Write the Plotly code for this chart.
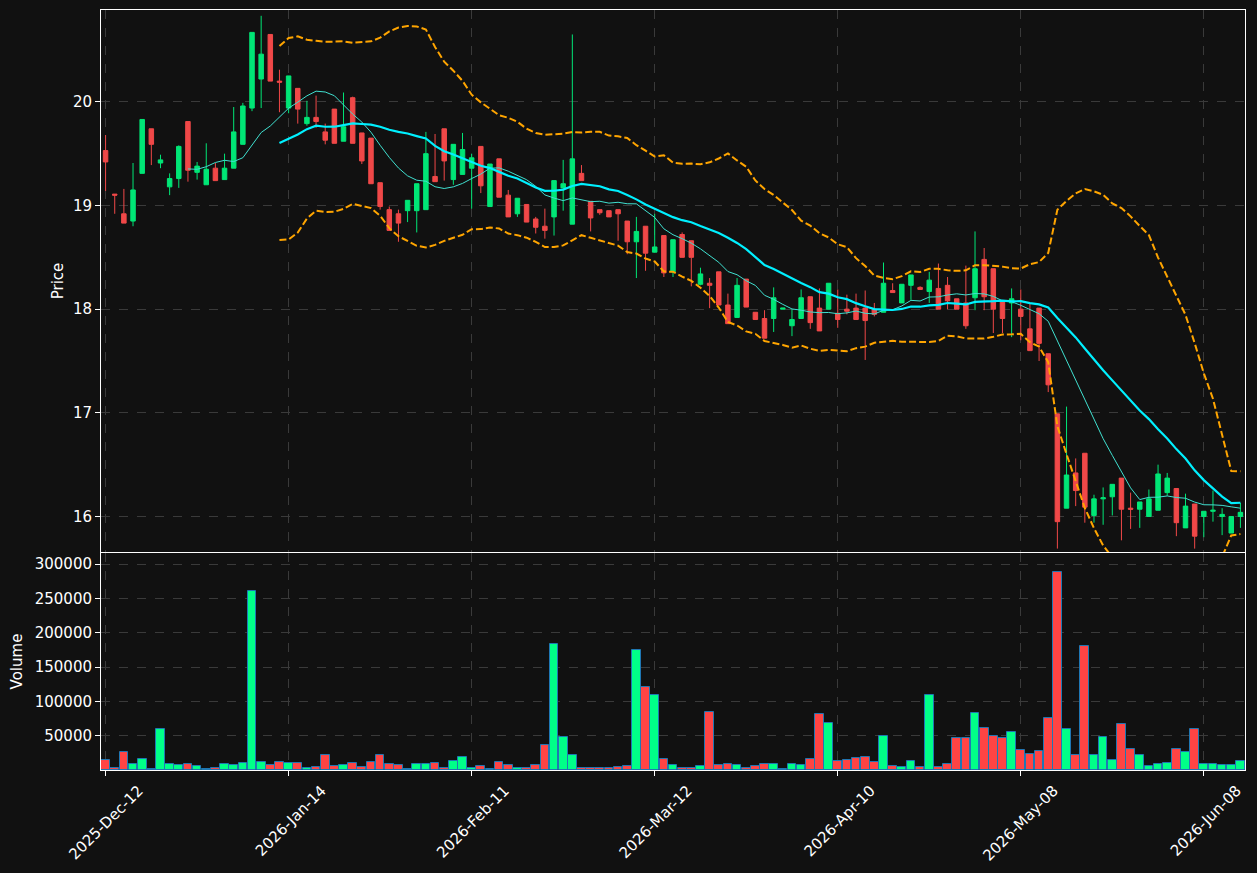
import pandas as pd
import plotly.graph_objects as go

tick_labels = ['2025-Dec-12', '2026-Jan-14', '2026-Feb-11', '2026-Mar-12',
               '2026-Apr-10', '2026-May-08', '2026-Jun-08']
tick_positions = [0, 20, 40, 60, 80, 100, 120]

opens = [19.53, 19.11, 18.92, 18.85, 19.31, 19.74, 19.41, 19.18, 19.26, 19.81,
         19.32, 19.20, 19.36, 19.25, 19.36, 19.59, 19.94, 20.22, 20.65, 20.20,
         19.94, 20.13, 19.79, 19.85, 19.71, 19.93, 19.62, 20.04, 19.70, 19.65,
         19.22, 18.96, 18.92, 18.95, 18.95, 18.96, 19.28, 19.74, 19.25, 19.30,
         19.36, 19.57, 18.99, 19.45, 19.10, 18.92, 19.01, 18.87, 18.80, 18.89,
         19.17, 18.82, 19.31, 19.04, 18.96, 18.95, 18.96, 18.85, 18.65, 18.80,
         18.55, 18.71, 18.36, 18.72, 18.66, 18.24, 18.25, 18.36, 18.04, 17.92,
         18.29, 17.97, 17.91, 17.91, 18.00, 17.84, 17.91, 18.12, 18.01, 18.00,
         17.96, 18.00, 18.01, 18.01, 18.00, 17.97, 18.18, 18.06, 18.23, 18.21,
         18.17, 18.20, 18.23, 18.10, 18.06, 18.11, 18.48, 18.39, 18.07, 18.06,
         18.00, 17.81, 18.01, 17.57, 16.99, 16.08, 16.42, 16.61, 16.01, 16.17,
         16.19, 16.37, 16.08, 16.07, 16.00, 16.06, 16.23, 16.27, 15.89, 16.12,
         16.00, 16.05, 16.00, 15.84, 16.00]
highs = [19.68, 19.11, 19.16, 19.41, 19.83, 19.74, 19.49, 19.31, 19.58, 19.81,
         19.42, 19.60, 19.41, 19.50, 19.95, 19.99, 20.67, 20.83, 20.65, 20.31,
         20.25, 20.13, 20.01, 20.06, 19.79, 19.93, 20.09, 20.05, 19.70, 19.65,
         19.22, 18.99, 18.96, 19.05, 19.21, 19.71, 19.69, 19.74, 19.59, 19.70,
         19.50, 19.57, 19.40, 19.45, 19.15, 19.07, 19.01, 18.89, 18.97, 19.24,
         19.44, 20.65, 19.39, 19.04, 18.96, 18.95, 18.96, 18.85, 18.89, 18.80,
         18.92, 18.71, 18.67, 18.74, 18.66, 18.40, 18.30, 18.36, 18.15, 18.30,
         18.29, 17.97, 17.99, 18.21, 18.01, 18.00, 18.19, 18.12, 18.20, 18.25,
         18.19, 18.14, 18.15, 18.18, 18.06, 18.45, 18.25, 18.24, 18.33, 18.22,
         18.36, 18.44, 18.31, 18.10, 18.42, 18.75, 18.59, 18.39, 18.07, 18.20,
         18.19, 18.05, 18.01, 17.57, 16.99, 17.06, 16.56, 16.61, 16.21, 16.28,
         16.31, 16.37, 16.23, 16.14, 16.26, 16.50, 16.42, 16.27, 16.22, 16.12,
         16.05, 16.25, 16.08, 16.00, 16.13]
lows = [19.14, 18.92, 18.83, 18.80, 19.31, 19.39, 19.36, 19.10, 19.17, 19.23,
        19.25, 19.20, 19.24, 19.25, 19.36, 19.59, 19.91, 19.94, 20.20, 19.90,
        19.89, 19.79, 19.77, 19.75, 19.59, 19.60, 19.62, 19.60, 19.40, 19.21,
        18.96, 18.76, 18.65, 18.84, 18.74, 18.96, 19.23, 19.24, 19.20, 19.30,
        18.97, 19.12, 18.99, 19.08, 18.89, 18.89, 18.84, 18.73, 18.68, 18.71,
        18.95, 18.82, 19.24, 18.75, 18.91, 18.89, 18.66, 18.53, 18.30, 18.37,
        18.55, 18.31, 18.31, 18.50, 18.22, 18.23, 18.01, 18.04, 17.86, 17.92,
        18.02, 17.90, 17.72, 17.78, 18.00, 17.74, 17.91, 17.81, 17.79, 18.00,
        17.82, 17.95, 17.90, 17.51, 17.93, 17.97, 18.16, 18.06, 18.09, 18.19,
        18.06, 18.00, 18.00, 18.00, 17.81, 17.99, 17.99, 17.77, 17.77, 17.73,
        17.70, 17.60, 17.50, 17.20, 15.69, 16.08, 16.10, 15.94, 15.94, 15.92,
        16.01, 15.77, 15.88, 15.89, 16.00, 16.06, 16.20, 15.81, 15.89, 15.69,
        15.80, 15.95, 15.82, 15.84, 15.89]
closes = [19.42, 19.10, 18.83, 19.15, 19.83, 19.59, 19.44, 19.26, 19.57, 19.34,
          19.38, 19.35, 19.24, 19.36, 19.71, 19.96, 20.67, 20.46, 20.20, 20.19,
          20.25, 19.93, 19.85, 19.81, 19.63, 19.60, 19.76, 19.60, 19.43, 19.21,
          18.99, 18.76, 18.83, 19.05, 19.21, 19.50, 19.23, 19.43, 19.59, 19.54,
          19.46, 19.19, 19.40, 19.08, 18.89, 19.07, 18.84, 18.79, 18.76, 19.24,
          19.21, 19.45, 19.24, 18.88, 18.93, 18.89, 18.92, 18.65, 18.75, 18.54,
          18.60, 18.35, 18.67, 18.50, 18.50, 18.34, 18.23, 18.04, 17.86, 18.23,
          18.02, 17.90, 17.72, 18.11, 18.01, 17.90, 18.11, 17.87, 17.79, 18.25,
          17.90, 17.98, 17.90, 17.89, 17.95, 18.25, 18.16, 18.24, 18.33, 18.19,
          18.28, 18.00, 18.08, 18.00, 17.84, 18.39, 18.12, 18.00, 17.91, 18.10,
          17.93, 17.60, 17.67, 17.27, 15.95, 16.40, 16.25, 16.09, 16.17, 16.18,
          16.31, 16.07, 16.07, 16.14, 16.17, 16.41, 16.37, 15.94, 16.10, 15.81,
          16.05, 16.06, 16.02, 16.00, 16.04]
volumes = [15200, 3400, 25500, 9300, 16700, 2000, 59300, 9300, 7800, 9300,
           6400, 2000, 3400, 9300, 7800, 10800, 260000, 12300, 7800, 12300,
           10800, 10800, 3400, 4900, 21100, 6400, 7800, 10800, 4900, 12300,
           22500, 9300, 7800, 2000, 9300, 9300, 10800, 3400, 13700, 19600,
           3400, 6400, 2000, 12300, 7800, 3400, 3400, 7800, 35800, 183000,
           47500, 21100, 3400, 3400, 3400, 3400, 4900, 6400, 175000, 121000,
           109500, 16700, 7800, 3400, 3400, 6400, 84500, 7800, 9300, 7800,
           3400, 6400, 9300, 9300, 1500, 9300, 7800, 16700, 82000, 69000,
           13700, 15200, 18100, 19600, 12300, 49000, 6400, 4900, 13700, 4900,
           108500, 4900, 9300, 46100, 46100, 83500, 60500, 49000, 46100, 56000,
           28400, 24000, 27000, 75000, 288000, 59000, 22500, 180000, 22500, 47500,
           15200, 66500, 29900, 21100, 6400, 9300, 10800, 29900, 25500, 59000,
           9300, 9300, 7800, 7800, 13700]

x = list(range(len(closes)))
close_s = pd.Series(closes)
ma10 = close_s.rolling(10).mean()
ma20 = close_s.rolling(20).mean()
sd20 = close_s.rolling(20).std(ddof=0)
bb_up = ma20 + 2 * sd20
bb_lo = ma20 - 2 * sd20

GREEN_C = '#00e676'
RED_C = '#f04848'
GREEN_V = '#00ff88'
RED_V = '#ff4444'
vol_colors = [GREEN_V if c >= o else RED_V for o, c in zip(opens, closes)]

fig = go.Figure()
fig.add_trace(go.Candlestick(
    x=x, open=opens, high=highs, low=lows, close=closes,
    increasing=dict(line=dict(color=GREEN_C, width=1), fillcolor=GREEN_C),
    decreasing=dict(line=dict(color=RED_C, width=1), fillcolor=RED_C),
    xaxis='x', yaxis='y', showlegend=False))
fig.add_trace(go.Scatter(x=x, y=ma10, mode='lines', line=dict(color='#40e0d0', width=1),
                         xaxis='x', yaxis='y', showlegend=False))
fig.add_trace(go.Scatter(x=x, y=ma20, mode='lines', line=dict(color='#00f0ff', width=2.2),
                         xaxis='x', yaxis='y', showlegend=False))
fig.add_trace(go.Scatter(x=x, y=bb_up, mode='lines',
                         line=dict(color='#ffa500', width=2, dash='7px,3px'),
                         xaxis='x', yaxis='y', showlegend=False))
fig.add_trace(go.Scatter(x=x, y=bb_lo, mode='lines',
                         line=dict(color='#ffa500', width=2, dash='7px,3px'),
                         xaxis='x', yaxis='y', showlegend=False))
fig.add_trace(go.Bar(x=x, y=volumes, width=0.95,
                     marker=dict(color=vol_colors, line=dict(color='#1f77b4', width=1)),
                     xaxis='x2', yaxis='y2', showlegend=False))

FONT = dict(family='DejaVu Sans', size=15, color='white')
grid = dict(showgrid=True, gridcolor='#3a3a3a', griddash='dash', gridwidth=1,
            showline=True, linecolor='white', linewidth=1, mirror=True,
            ticks='outside', tickcolor='white', ticklen=5, zeroline=False,
            tickfont=FONT, automargin=False)

fig.update_layout(
    width=1257, height=873,
    margin=dict(l=101, r=12, t=10, b=103),
    paper_bgcolor='#111111', plot_bgcolor='#111111',
    font=FONT,
    bargap=0,
    xaxis=dict(domain=[0, 1], anchor='y', range=[-0.5, 124.5],
               tickvals=tick_positions, ticktext=tick_labels,
               showticklabels=False, rangeslider=dict(visible=False), **grid),
    yaxis=dict(domain=[0.2868, 1], anchor='x', range=[15.657, 20.886],
               tickvals=[16, 17, 18, 19, 20],
               title=dict(text='Price', font=FONT, standoff=5), **grid),
    xaxis2=dict(domain=[0, 1], anchor='y2', range=[-0.5, 124.5], matches='x',
                tickvals=tick_positions, ticktext=tick_labels, tickangle=-45,
                ticklabelshift=33, ticklabelstandoff=0,
                **grid),
    yaxis2=dict(domain=[0, 0.2855], anchor='x2', range=[0, 316000],
                tickvals=[50000, 100000, 150000, 200000, 250000, 300000],
                ticktext=['50000', '100000', '150000', '200000', '250000', '300000'],
                title=dict(text='Volume', font=FONT, standoff=8), **grid),
)

fig.write_html('out.html')
